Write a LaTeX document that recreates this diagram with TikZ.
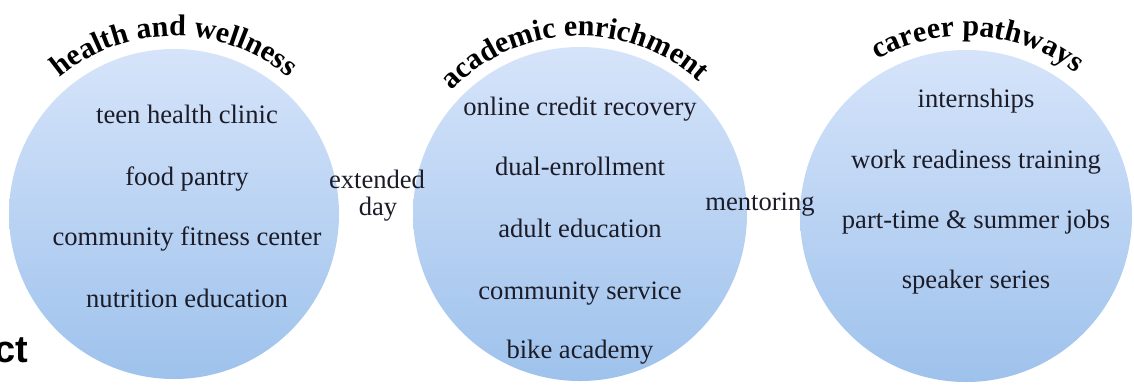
\documentclass[tikz,border=0pt]{standalone}
\usepackage{fontspec}
\setmainfont{Liberation Serif}
\newfontfamily\ctfont{Liberation Sans}
\usetikzlibrary{decorations.text}
\definecolor{topblue}{RGB}{214,228,250}
\definecolor{botblue}{RGB}{158,194,236}
\definecolor{ink}{RGB}{28,28,40}
\newcommand{\titlefont}{\bfseries\fontsize{15}{15}\selectfont}
\begin{document}
\begin{tikzpicture}[x=0.5pt,y=0.5pt,
  bubble/.style={circle, inner sep=0pt, top color=topblue, bottom color=botblue, draw=none},
  item/.style={anchor=base, font=\fontsize{13.3}{14}\selectfont, text=ink, inner sep=0pt},
  arctitle/.style={decorate, decoration={text along path, text align=center, text color=black, text={|\titlefont|#1}}}
  ]
\useasboundingbox (0,0) rectangle (1134,388);
\clip (0,0) rectangle (1134,388);
% circles
\node[bubble, minimum size=165pt] (c1) at (174,174) {};
\node[bubble, minimum size=167pt] (c2) at (580,174) {};
\node[bubble, minimum size=166pt] (c3) at (966,172) {};
% curved titles
\path[arctitle={health and wellness}] (c1.center) ++(150:89pt) arc[start angle=150, end angle=30, radius=89pt];
\path[arctitle={academic enrichment}] (c2.center) ++(152:89pt) arc[start angle=152, end angle=32, radius=89pt];
\path[arctitle={career pathways}] (c3.center) ++(146:90pt) arc[start angle=146, end angle=26, radius=90pt];
% circle 1 items
\node[item] (h1) at (187,265) {teen health clinic};
\node[item] (h2) at (187,203) {food pantry};
\node[item] (h3) at (187,143) {community fitness center};
\node[item] (h4) at (187,81) {nutrition education};
% circle 2 items
\node[item] (a1) at (580,273) {online credit recovery};
\node[item] (a2) at (580,213) {dual-enrollment};
\node[item] (a3) at (580,151) {adult education};
\node[item] (a4) at (580,89) {community service};
\node[item] (a5) at (580,30) {bike academy};
% circle 3 items
\node[item] (p1) at (976,281) {internships};
\node[item] (p2) at (976,220) {work readiness training};
\node[item] (p3) at (976,160) {part-time \& summer jobs};
\node[item] (p4) at (976,100) {speaker series};
% between labels
\node[item] (ext) at (377,200) {extended};
\node[item] (day) at (378,173) {day};
\node[item] (men) at (760,178) {mentoring};
% cut-off heading fragment
\node[anchor=base east, inner sep=0pt, font=\ctfont\bfseries\fontsize{19}{19}\selectfont] (ct) at (29,26) {ct};
\end{tikzpicture}
\end{document}
